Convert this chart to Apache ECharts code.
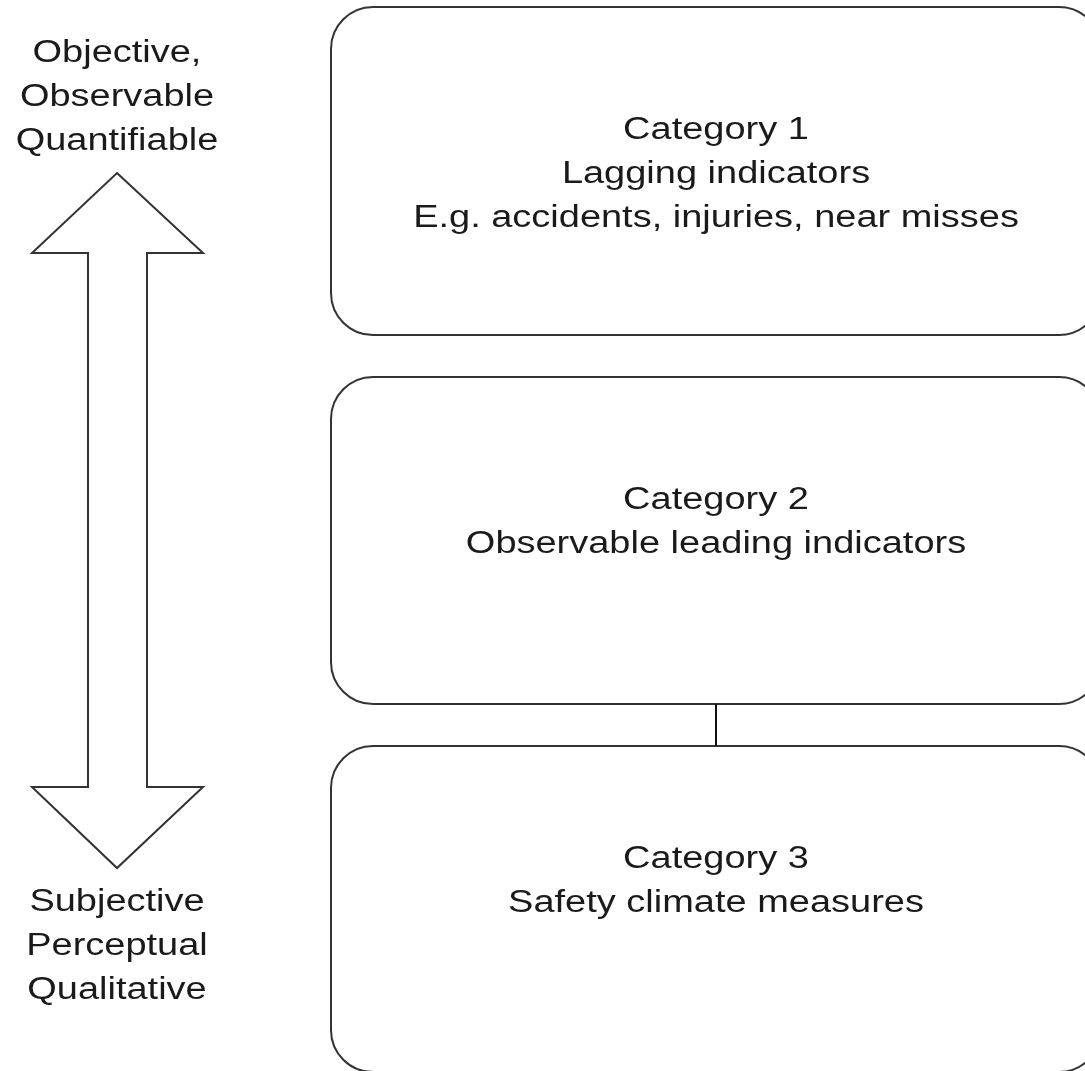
<!DOCTYPE html>
<html><head><meta charset="utf-8">
<script src="https://cdn.jsdelivr.net/npm/echarts@6/dist/echarts.min.js"></script>
<style>html,body{margin:0;padding:0;background:#fff}#c{width:1085px;height:1071px}</style>
</head><body><div id="c"></div>
<script>
const topLabels = ["Objective,", "Observable", "Quantifiable"];
const bottomLabels = ["Subjective", "Perceptual", "Qualitative"];
const categories = ["Category 1", "Category 2", "Category 3"];
const categoryLines = [
  ["Lagging indicators", "E.g. accidents, injuries, near misses"],
  ["Observable leading indicators"],
  ["Safety climate measures"]
];

const chart = echarts.init(document.getElementById('c'), null, {renderer: 'canvas'});
const FONT = '"Liberation Sans", Arial, sans-serif';
const FS = 31;
const LH = 44;
const SX = 1.225;
const stroke = '#333';

const boxes = [
  {y: 7, h: 328, firstY: 130},
  {y: 377, h: 327, firstY: 500},
  {y: 746, h: 326, firstY: 859}
];
const boxX = 331, boxW = 770;

function label(t, x, y) {
  return {
    type: 'text', x: x, y: y, scaleX: SX,
    style: {text: t, x: 0, y: 0, fill: '#1a1a1a', font: FS + 'px ' + FONT,
      textAlign: 'center', textVerticalAlign: 'middle'}
  };
}

const graphic = [];
boxes.forEach((b, i) => {
  graphic.push({
    type: 'rect',
    shape: {x: boxX, y: b.y, width: boxW, height: b.h, r: 42},
    style: {fill: '#fff', stroke: stroke, lineWidth: 2}
  });
  const lines = [categories[i]].concat(categoryLines[i]);
  lines.forEach((t, j) => graphic.push(label(t, 716, b.firstY + j * LH)));
});
graphic.push({type: 'line', shape: {x1: 716, y1: 704, x2: 716, y2: 746},
  style: {stroke: '#111', lineWidth: 2}});

graphic.push({
  type: 'polygon',
  shape: {points: [
    [117, 173], [203, 253], [147, 253], [147, 787], [203, 787],
    [117, 868], [32, 787], [88, 787], [88, 253], [32, 253]
  ]},
  style: {fill: '#fff', stroke: stroke, lineWidth: 2}
});

topLabels.forEach((t, j) => graphic.push(label(t, 117, 53 + j * LH)));
bottomLabels.forEach((t, j) => graphic.push(label(t, 117, 902 + j * LH)));

chart.setOption({animation: false, backgroundColor: '#fff', graphic: graphic});
</script></body></html>
